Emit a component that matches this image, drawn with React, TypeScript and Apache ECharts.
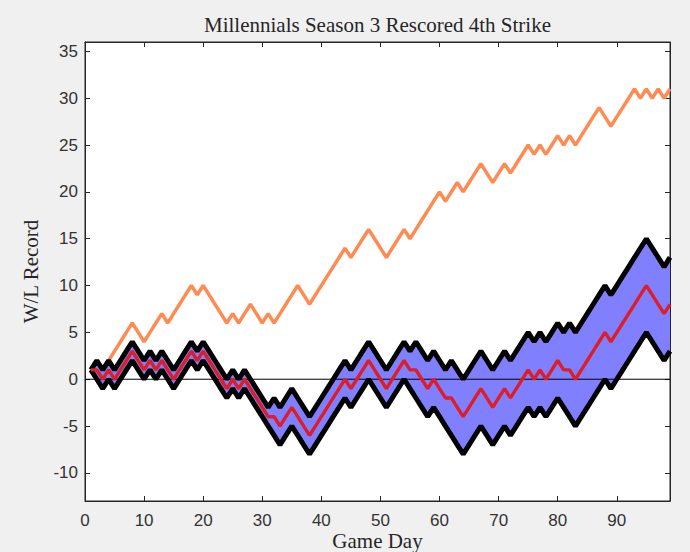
import React, { useEffect, useRef } from "react";
import * as echarts from "echarts";

// Game days 1..99
const gameDays: number[] = Array.from({ length: 99 }, (_, i) => i + 1);

// Orange: actual W/L record
const actualRecord: number[] = [
  1, 0, 1, 2, 3, 4, 5, 6, 5, 4,
  5, 6, 7, 6, 7, 8, 9, 10, 9, 10,
  9, 8, 7, 6, 7, 6, 7, 8, 7, 6,
  7, 6, 7, 8, 9, 10, 9, 8, 9, 10,
  11, 12, 13, 14, 13, 14, 15, 16, 15, 14,
  13, 14, 15, 16, 15, 16, 17, 18, 19, 20,
  19, 20, 21, 20, 21, 22, 23, 22, 21, 22,
  23, 22, 23, 24, 25, 24, 25, 24, 25, 26,
  25, 26, 25, 26, 27, 28, 29, 28, 27, 28,
  29, 30, 31, 30, 31, 30, 31, 30, 31,
];

// Black upper bound
const upperBound: number[] = [
  1, 2, 1, 2, 1, 2, 3, 4, 3, 2,
  3, 2, 3, 2, 1, 2, 3, 4, 3, 4,
  3, 2, 1, 0, 1, 0, 1, 0, -1, -2,
  -3, -2, -3, -2, -1, -2, -3, -4, -3, -2,
  -1, 0, 1, 2, 1, 2, 3, 4, 3, 2,
  1, 2, 3, 4, 3, 4, 3, 2, 3, 2,
  1, 2, 1, 0, 1, 2, 3, 2, 1, 2,
  3, 2, 3, 4, 5, 4, 5, 4, 5, 6,
  5, 6, 5, 6, 7, 8, 9, 10, 9, 10,
  11, 12, 13, 14, 15, 14, 13, 12, 13,
];

// Black lower bound
const lowerBound: number[] = [
  1, 0, -1, 0, -1, 0, 1, 2, 1, 0,
  1, 0, 1, 0, -1, 0, 1, 2, 1, 2,
  1, 0, -1, -2, -1, -2, -1, -2, -3, -4,
  -5, -6, -7, -6, -5, -6, -7, -8, -7, -6,
  -5, -4, -3, -2, -3, -2, -1, 0, -1, -2,
  -3, -2, -1, 0, -1, -2, -3, -4, -3, -4,
  -5, -6, -7, -8, -7, -6, -5, -6, -7, -6,
  -5, -6, -5, -4, -3, -4, -3, -4, -3, -2,
  -3, -4, -5, -4, -3, -2, -1, 0, -1, 0,
  1, 2, 3, 4, 5, 4, 3, 2, 3,
];

// Red: rescored record
const rescoredRecord: number[] = [
  1, 1, 0, 1, 0, 1, 2, 3, 2, 1,
  2, 1, 2, 1, 0, 1, 2, 3, 2, 3,
  2, 1, 0, -1, 0, -1, 0, -1, -2, -3,
  -4, -4, -5, -4, -3, -4, -5, -6, -5, -4,
  -3, -2, -1, 0, -1, 0, 1, 2, 1, 0,
  -1, 0, 1, 2, 1, 1, 0, -1, 0, -1,
  -2, -2, -3, -4, -3, -2, -1, -2, -3, -2,
  -1, -2, -1, 0, 1, 0, 1, 0, 1, 2,
  1, 1, 0, 1, 2, 3, 4, 5, 4, 5,
  6, 7, 8, 9, 10, 9, 8, 7, 8,
];

const xTicks: number[] = [0, 10, 20, 30, 40, 50, 60, 70, 80, 90];
const yTicks: number[] = [-10, -5, 0, 5, 10, 15, 20, 25, 30, 35];

const X_MIN = 0;
const X_MAX = 99;
const Y_MIN = -13;
const Y_MAX = 36;

const AXIS_COLOR = "#262626";
const LABEL_COLOR = "#333333";
const SANS = "'Liberation Sans', Arial, sans-serif";
const SERIF = "'Liberation Serif', 'Times New Roman', serif";

function pairs(arr: number[]) {
  return gameDays.map((g, i) => [g, arr[i]]);
}

export default function App() {
  const ref = useRef<HTMLDivElement>(null);

  useEffect(() => {
    if (!ref.current) return;
    const chart = echarts.init(ref.current, undefined, { renderer: "svg" });

    const tickCommon = {
      show: true,
      inside: true,
      length: 5,
      lineStyle: { color: AXIS_COLOR, width: 1 },
    };
    const lineCommon = {
      show: true,
      onZero: false,
      lineStyle: { color: AXIS_COLOR, width: 1 },
    };

    chart.setOption({
      animation: false,
      backgroundColor: "#F0F0F0",
      grid: {
        left: 85,
        right: 20,
        top: 42,
        bottom: 51,
        show: true,
        backgroundColor: "#FFFFFF",
        borderColor: AXIS_COLOR,
        borderWidth: 1,
        containLabel: false,
        outerBoundsMode: "none",
      },
      graphic: [
        {
          type: "text",
          x: 377.5,
          y: 24.5,
          silent: true,
          style: {
            text: "Millennials Season 3 Rescored 4th Strike",
            fill: AXIS_COLOR,
            font: `21px ${SERIF}`,
            align: "center",
            verticalAlign: "middle",
          },
        },
        {
          type: "text",
          x: 377.5,
          y: 541,
          silent: true,
          style: {
            text: "Game Day",
            fill: AXIS_COLOR,
            font: `21px ${SERIF}`,
            lineHeight: 21,
            align: "center",
            verticalAlign: "middle",
          },
        },
      ],
      xAxis: [
        {
          type: "value",
          position: "bottom",
          min: X_MIN,
          max: X_MAX,
          axisLine: lineCommon,
          axisTick: { ...tickCommon, customValues: xTicks },
          axisLabel: {
            customValues: xTicks,
            fontSize: 17,
            lineHeight: 17,
            fontFamily: SANS,
            color: LABEL_COLOR,
            margin: 11,
          },
          splitLine: { show: false },
        },
        {
          type: "value",
          position: "top",
          min: X_MIN,
          max: X_MAX,
          axisLine: lineCommon,
          axisTick: { ...tickCommon, customValues: xTicks },
          axisLabel: { show: false },
          splitLine: { show: false },
        },
      ],
      yAxis: [
        {
          type: "value",
          position: "left",
          min: Y_MIN,
          max: Y_MAX,
          axisLine: lineCommon,
          axisTick: { ...tickCommon, customValues: yTicks },
          axisLabel: {
            customValues: yTicks,
            fontSize: 17,
            fontFamily: SANS,
            color: LABEL_COLOR,
            margin: 7,
          },
          splitLine: { show: false },
          name: "W/L Record",
          nameLocation: "middle",
          nameRotate: 90,
          nameGap: 44,
          nameTextStyle: { fontSize: 21, fontFamily: SERIF, color: AXIS_COLOR },
        },
        {
          type: "value",
          position: "right",
          min: Y_MIN,
          max: Y_MAX,
          axisLine: lineCommon,
          axisTick: { ...tickCommon, customValues: yTicks },
          axisLabel: { show: false },
          splitLine: { show: false },
        },
      ],
      series: [
        {
          name: "Actual",
          type: "line",
          xAxisIndex: 0,
          yAxisIndex: 0,
          data: pairs(actualRecord),
          showSymbol: false,
          symbol: "none",
          lineStyle: { color: "#FF8A52", width: 3.5 },
          z: 2,
          silent: true,
        },
        {
          name: "Band",
          type: "custom",
          xAxisIndex: 0,
          yAxisIndex: 0,
          data: [0],
          z: 3,
          silent: true,
          clip: true,
          renderItem: (_params: any, api: any) => {
            const pts: number[][] = [];
            for (let i = 0; i < gameDays.length; i++) {
              pts.push(api.coord([gameDays[i], upperBound[i]]));
            }
            for (let i = gameDays.length - 1; i >= 0; i--) {
              pts.push(api.coord([gameDays[i], lowerBound[i]]));
            }
            return {
              type: "polygon",
              shape: { points: pts },
              style: { fill: "#8080FF", stroke: "none" },
            };
          },
        },
        {
          name: "zero",
          type: "line",
          xAxisIndex: 0,
          yAxisIndex: 0,
          data: [
            [X_MIN, 0],
            [X_MAX, 0],
          ],
          showSymbol: false,
          symbol: "none",
          lineStyle: { color: "#000000", width: 1 },
          z: 4,
          silent: true,
        },
        {
          name: "Upper",
          type: "line",
          xAxisIndex: 0,
          yAxisIndex: 0,
          data: pairs(upperBound),
          showSymbol: false,
          symbol: "none",
          lineStyle: { color: "#000000", width: 5 },
          z: 5,
          silent: true,
        },
        {
          name: "Lower",
          type: "line",
          xAxisIndex: 0,
          yAxisIndex: 0,
          data: pairs(lowerBound),
          showSymbol: false,
          symbol: "none",
          lineStyle: { color: "#000000", width: 5 },
          z: 5,
          silent: true,
        },
        {
          name: "Rescored",
          type: "line",
          xAxisIndex: 0,
          yAxisIndex: 0,
          data: pairs(rescoredRecord),
          showSymbol: false,
          symbol: "none",
          lineStyle: { color: "#DC1E28", width: 3.4 },
          z: 6,
          silent: true,
        },
      ],
    });

    return () => {
      chart.dispose();
    };
  }, []);

  return (
    <div
      ref={ref}
      style={{ position: "absolute", left: 0, top: 0, width: 690, height: 552 }}
    />
  );
}
